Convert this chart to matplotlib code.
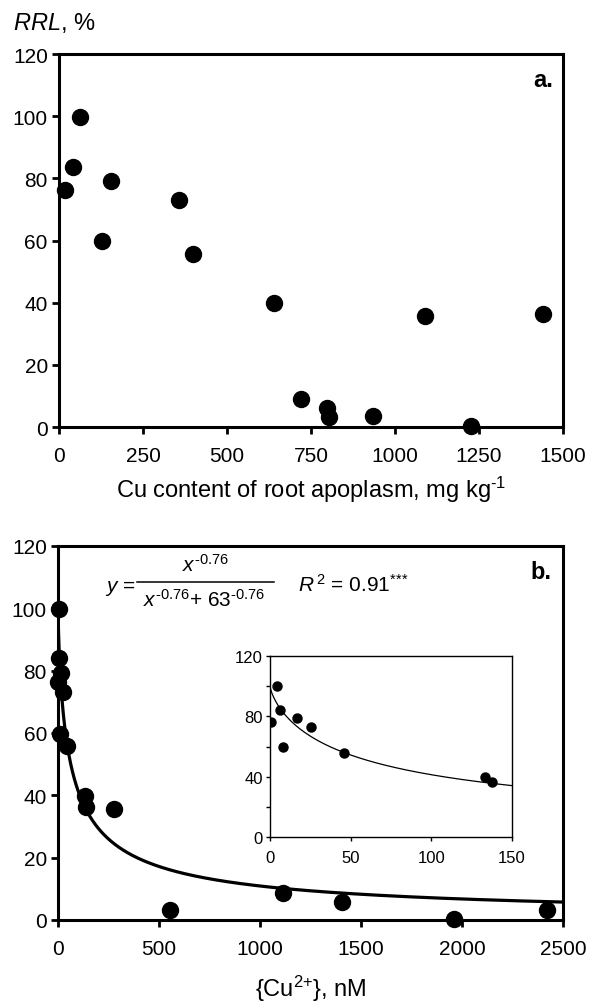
import numpy as np
import matplotlib
matplotlib.use("Agg")
import matplotlib.pyplot as plt
from matplotlib.lines import Line2D

plt.rcParams['font.family'] = ['Liberation Sans', 'DejaVu Sans']
plt.rcParams['mathtext.fontset'] = 'custom'
plt.rcParams['mathtext.rm'] = 'Liberation Sans'
plt.rcParams['mathtext.it'] = 'Liberation Sans:italic'
plt.rcParams['mathtext.bf'] = 'Liberation Sans:bold'

# Panel a: RRL vs Cu content of root apoplasm
apoplasm_cu = [17, 43, 62, 155, 128, 357, 400, 640, 1089, 1441, 719, 798, 804, 934, 1226]
rrl_a = [76.2, 83.7, 99.8, 79.1, 59.8, 73.0, 55.8, 39.8, 35.8, 36.2, 8.9, 6.1, 3.2, 3.4, 0.3]

# Panel b: RRL vs Cu2+ activity
cu_activity = [0.5, 4.3, 6.4, 8.3, 16.7, 25.5, 45.8, 133.5, 137.4,
               278, 555, 1112, 1407, 1960, 2420]
rrl_b = [76.2, 99.8, 84.0, 59.8, 79.2, 73.0, 55.9, 39.9, 36.2,
         35.6, 3.3, 8.7, 5.8, 0.2, 3.3]

# fitted curve parameters (shown in the equation)
fit_exp = -0.76
fit_c50 = 63.0

def fit_curve(x):
    return 100 * x ** fit_exp / (x ** fit_exp + fit_c50 ** fit_exp)

fig = plt.figure(figsize=(5.97, 10.04), dpi=100)

# ---- panel a ----
ax1 = fig.add_axes([0.0988, 0.5737, 0.8442, 0.3715])
ax1.plot(apoplasm_cu, rrl_a, 'o', color='black', markersize=11.5, clip_on=False, zorder=3)
ax1.set_xlim(0, 1500)
ax1.set_ylim(0, 120)
ax1.set_xticks([0, 250, 500, 750, 1000, 1250, 1500])
ax1.set_yticks([0, 20, 40, 60, 80, 100, 120])
ax1.set_xlabel('Cu content of root apoplasm, mg kg$^{\\text{-1}}$', fontsize=17, labelpad=6)
ax1.text(0.98, 0.933, 'a.', transform=ax1.transAxes, ha='right', va='center',
         fontsize=17, fontweight='bold')
fig.text(0.022, 0.977, '$RRL$, %', fontsize=17, ha='left', va='center')

# ---- panel b ----
ax2 = fig.add_axes([0.0972, 0.0827, 0.8459, 0.3725])
xs = np.linspace(0.01, 2500, 3000)
ax2.plot(xs, fit_curve(xs), color='black', linewidth=2.3, zorder=2)
ax2.plot(cu_activity, rrl_b, 'o', color='black', markersize=11.5, clip_on=False, zorder=3)
ax2.set_xlim(0, 2500)
ax2.set_ylim(0, 120)
ax2.set_xticks([0, 500, 1000, 1500, 2000, 2500])
ax2.set_yticks([0, 20, 40, 60, 80, 100, 120])
ax2.set_xlabel('{Cu$^{\\text{2+}}$}, nM', fontsize=17, labelpad=10)
ax2.text(0.978, 0.933, 'b.', transform=ax2.transAxes, ha='right', va='center',
         fontsize=17, fontweight='bold')

# fitted equation
eq_size = 15
ax2.text(0.154, 0.890, '$y$ =', transform=ax2.transAxes, ha='right', va='center',
         fontsize=eq_size)
ax2.add_line(Line2D([0.156, 0.427], [0.904, 0.904], transform=ax2.transAxes,
                    color='black', linewidth=1.1))
ax2.text(0.292, 0.952, r'$x^{\text{-0.76}}$', transform=ax2.transAxes,
         ha='center', va='center', fontsize=eq_size)
ax2.text(0.289, 0.858, r'$x^{\text{-0.76}}$+ 63$^{\text{-0.76}}$', transform=ax2.transAxes,
         ha='center', va='center', fontsize=eq_size)
ax2.text(0.476, 0.898, r'$R^{\,2}$ = 0.91$^{\text{***}}$', transform=ax2.transAxes,
         ha='left', va='center', fontsize=15)

for ax in (ax1, ax2):
    for s in ax.spines.values():
        s.set_linewidth(2.2)
    ax.tick_params(direction='out', length=5, width=2, labelsize=15)
    ax.tick_params(axis='x', pad=9)
    ax.tick_params(axis='y', pad=3)

# ---- inset ----
axi = fig.add_axes([0.4523, 0.1653, 0.4054, 0.1803])
xi = np.linspace(0.01, 150, 600)
axi.plot(xi, fit_curve(xi), color='black', linewidth=0.9)
axi.plot(cu_activity, rrl_b, 'o', color='black', markersize=6.5, clip_on=True)
axi.set_xlim(0, 150)
axi.set_ylim(0, 120)
axi.set_xticks([0, 50, 100, 150])
axi.set_yticks([0, 40, 80, 120])
axi.set_yticks([20, 60, 100], minor=True)
for s in axi.spines.values():
    s.set_linewidth(1)
axi.tick_params(which='both', direction='out', length=3, width=1, labelsize=12, pad=2)
axi.tick_params(axis='x', pad=6)

fig.savefig('out.png', dpi=100)
